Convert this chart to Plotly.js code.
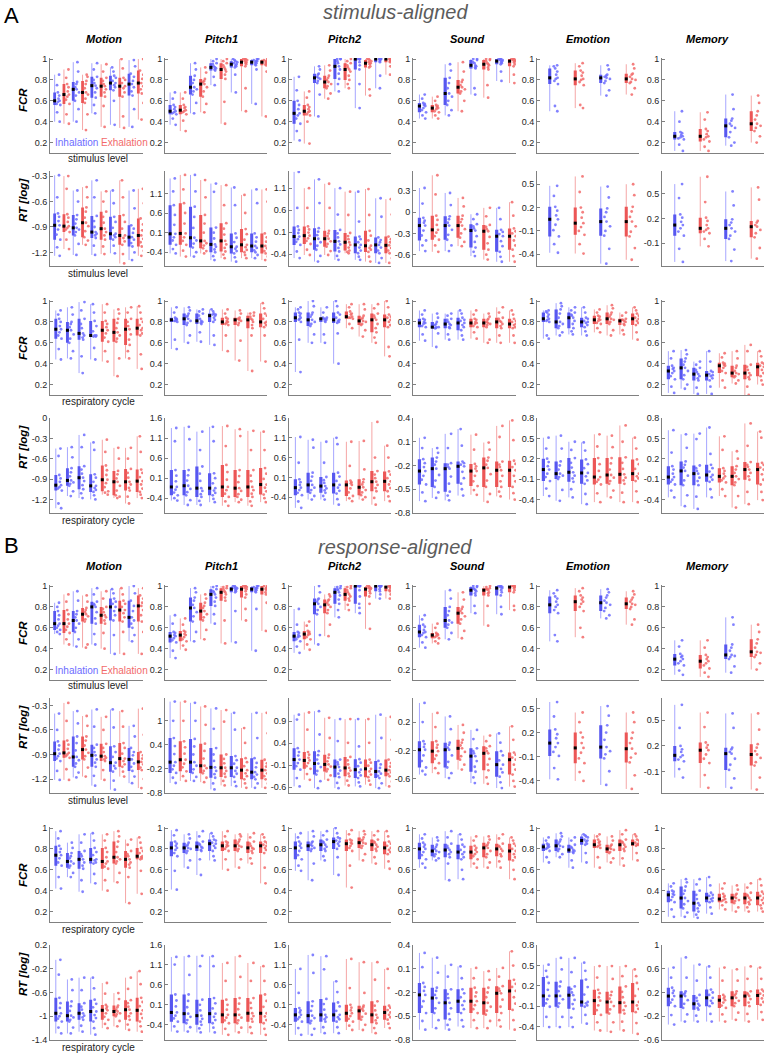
<!DOCTYPE html>
<html><head><meta charset="utf-8">
<script src="https://cdn.plot.ly/plotly-3.0.1.min.js"></script>
<style>html,body{margin:0;padding:0;background:#fff}</style>
</head><body><div id="chart" style="width:764px;height:1062px"></div>
<script>
// ===================== DATA (per panel: one array of points per group) =====================
// Section A: stimulus-aligned
const A1_motion = [
[0.40,0.49,0.56,0.57,0.59,0.60,0.62,0.65,0.68,0.75,0.85],
[0.38,0.47,0.57,0.61,0.64,0.66,0.69,0.73,0.76,0.82,0.90],
[0.40,0.52,0.60,0.65,0.68,0.71,0.73,0.76,0.78,0.88,0.97],
[0.32,0.47,0.58,0.62,0.66,0.68,0.72,0.76,0.79,0.83,0.85],
[0.48,0.56,0.63,0.68,0.72,0.745,0.77,0.80,0.83,0.90,0.96],
[0.35,0.55,0.64,0.68,0.71,0.74,0.76,0.79,0.82,0.88,0.95],
[0.37,0.60,0.70,0.73,0.75,0.77,0.79,0.82,0.84,0.88,0.92],
[0.34,0.45,0.64,0.68,0.72,0.74,0.77,0.80,0.82,0.91,1.00],
[0.35,0.52,0.65,0.69,0.73,0.76,0.79,0.83,0.86,0.93,0.99],
[0.42,0.58,0.67,0.71,0.74,0.77,0.81,0.85,0.89,0.95,1.00]];
const A1_pitch1 = [
[0.37,0.43,0.47,0.48,0.49,0.50,0.52,0.54,0.56,0.62,0.68],
[0.31,0.41,0.47,0.49,0.50,0.51,0.53,0.54,0.56,0.62,0.68],
[0.48,0.58,0.66,0.69,0.71,0.73,0.77,0.80,0.84,0.90,0.96],
[0.49,0.57,0.64,0.69,0.73,0.76,0.78,0.79,0.81,0.87,0.92],
[0.75,0.83,0.89,0.90,0.91,0.92,0.93,0.95,0.96,0.98,1.00],
[0.38,0.59,0.81,0.85,0.88,0.90,0.92,0.94,0.96,0.98,1.00],
[0.68,0.85,0.92,0.93,0.94,0.95,0.96,0.97,0.98,0.99,1.00],
[0.50,0.72,0.93,0.95,0.96,0.97,0.98,0.99,1.00,1.00,1.00],
[0.57,0.90,0.94,0.95,0.96,0.97,0.98,0.98,0.99,1.00,1.00],
[0.45,0.88,0.94,0.95,0.96,0.97,0.98,0.98,0.99,1.00,1.00]];
const A1_pitch2 = [
[0.22,0.31,0.38,0.43,0.46,0.48,0.52,0.56,0.60,0.70,0.83],
[0.19,0.40,0.46,0.47,0.49,0.50,0.52,0.54,0.56,0.63,0.69],
[0.45,0.66,0.77,0.79,0.81,0.82,0.83,0.85,0.86,0.90,0.93],
[0.62,0.67,0.72,0.74,0.76,0.78,0.80,0.82,0.84,0.89,0.94],
[0.69,0.76,0.81,0.86,0.90,0.93,0.96,0.98,1.00,1.00,1.00],
[0.72,0.76,0.80,0.84,0.88,0.90,0.92,0.94,0.96,0.98,1.00],
[0.53,0.76,0.90,0.94,0.97,1.00,1.00,1.00,1.00,1.00,1.00],
[0.65,0.71,0.92,0.93,0.95,0.96,0.97,0.98,0.99,1.00,1.00],
[0.72,0.84,0.97,0.98,0.99,1.00,1.00,1.00,1.00,1.00,1.00],
[0.85,0.93,0.97,0.98,0.99,1.00,1.00,1.00,1.00,1.00,1.00]];
const A1_sound = [
[0.43,0.46,0.49,0.51,0.53,0.55,0.56,0.57,0.58,0.62,0.66],
[0.43,0.46,0.49,0.50,0.52,0.53,0.54,0.55,0.56,0.60,0.64],
[0.46,0.51,0.56,0.60,0.64,0.67,0.72,0.77,0.82,0.89,0.95],
[0.50,0.60,0.67,0.69,0.71,0.73,0.75,0.78,0.80,0.88,0.97],
[0.66,0.72,0.91,0.92,0.93,0.94,0.96,0.97,0.99,1.00,1.00],
[0.63,0.75,0.90,0.92,0.94,0.95,0.96,0.98,0.99,1.00,1.00],
[0.79,0.88,0.95,0.96,0.97,0.98,0.99,0.99,1.00,1.00,1.00],
[0.77,0.85,0.93,0.95,0.97,0.98,0.99,0.99,1.00,1.00,1.00]];
const A1_emotion = [
[0.50,0.55,0.76,0.79,0.81,0.82,0.85,0.88,0.91,0.93,0.94],
[0.53,0.56,0.75,0.78,0.80,0.81,0.84,0.87,0.89,0.93,0.96],
[0.65,0.70,0.77,0.79,0.81,0.82,0.83,0.84,0.85,0.90,0.94],
[0.66,0.72,0.77,0.78,0.80,0.81,0.83,0.85,0.86,0.91,0.95]];
const A1_memory = [
[0.12,0.18,0.23,0.24,0.25,0.26,0.27,0.29,0.30,0.40,0.50],
[0.12,0.16,0.21,0.23,0.25,0.26,0.28,0.31,0.33,0.42,0.49],
[0.17,0.20,0.25,0.30,0.34,0.36,0.38,0.41,0.43,0.52,0.66],
[0.20,0.26,0.31,0.34,0.36,0.38,0.42,0.46,0.50,0.58,0.65]];

const A2_motion = [
[-1.24,-1.14,-1.05,-0.99,-0.93,-0.88,-0.83,-0.78,-0.74,-0.55,-0.29],
[-1.16,-1.05,-0.96,-0.93,-0.91,-0.89,-0.84,-0.79,-0.75,-0.45,-0.30],
[-1.23,-1.10,-1.00,-0.96,-0.93,-0.91,-0.86,-0.81,-0.76,-0.60,-0.47],
[-1.11,-1.06,-1.02,-0.95,-0.89,-0.85,-0.79,-0.72,-0.67,-0.55,-0.43],
[-1.23,-1.12,-1.03,-1.00,-0.98,-0.96,-0.90,-0.83,-0.77,-0.55,-0.35],
[-1.22,-1.13,-1.05,-1.00,-0.96,-0.92,-0.85,-0.78,-0.72,-0.60,-0.48],
[-1.21,-1.12,-1.05,-1.02,-1.00,-0.98,-0.91,-0.84,-0.78,-0.62,-0.47],
[-1.33,-1.22,-1.11,-1.07,-1.03,-1.00,-0.92,-0.84,-0.76,-0.55,-0.35],
[-1.29,-1.20,-1.13,-1.09,-1.05,-1.02,-0.97,-0.92,-0.88,-0.68,-0.47],
[-1.24,-1.18,-1.13,-1.08,-1.04,-1.00,-0.94,-0.87,-0.80,-0.62,-0.45]];
const A2_pitch1 = [
[-0.43,-0.32,-0.21,-0.10,-0.02,0.07,0.30,0.55,0.80,1.15,1.48],
[-0.51,-0.36,-0.21,-0.11,-0.02,0.08,0.33,0.60,0.85,1.20,1.57],
[-0.51,-0.40,-0.28,-0.18,-0.10,-0.03,0.22,0.50,0.76,1.15,1.57],
[-0.43,-0.37,-0.30,-0.23,-0.17,-0.11,0.10,0.33,0.55,1.00,1.44],
[-0.60,-0.50,-0.40,-0.33,-0.26,-0.20,-0.05,0.10,0.23,1.14,1.35],
[-0.55,-0.46,-0.38,-0.29,-0.20,-0.11,0.05,0.20,0.34,0.80,1.31],
[-0.64,-0.53,-0.43,-0.37,-0.31,-0.26,-0.14,-0.03,0.08,0.80,1.25],
[-0.55,-0.47,-0.40,-0.34,-0.27,-0.21,-0.08,0.06,0.19,0.60,1.06],
[-0.55,-0.47,-0.40,-0.35,-0.29,-0.24,-0.13,-0.02,0.08,0.85,1.20],
[-0.60,-0.51,-0.43,-0.37,-0.30,-0.24,-0.13,-0.02,0.08,0.89,1.20]];
const A2_pitch2 = [
[-0.49,-0.34,-0.19,-0.12,-0.06,0.00,0.08,0.15,0.23,0.65,1.47],
[-0.42,-0.30,-0.17,-0.10,-0.04,0.02,0.09,0.16,0.23,0.65,1.10],
[-0.57,-0.44,-0.30,-0.21,-0.13,-0.05,0.03,0.11,0.19,0.76,1.30],
[-0.42,-0.33,-0.23,-0.17,-0.11,-0.05,0.01,0.07,0.13,0.65,1.20],
[-0.53,-0.44,-0.34,-0.26,-0.18,-0.11,-0.02,0.07,0.15,0.50,1.10],
[-0.38,-0.35,-0.32,-0.25,-0.19,-0.13,-0.06,0.01,0.08,0.49,1.02],
[-0.53,-0.46,-0.38,-0.32,-0.25,-0.19,-0.13,-0.06,0.00,0.34,1.02],
[-0.57,-0.46,-0.35,-0.30,-0.26,-0.21,-0.09,0.02,0.13,0.49,1.08],
[-0.60,-0.49,-0.38,-0.32,-0.25,-0.19,-0.13,-0.08,-0.02,0.45,0.87],
[-0.60,-0.49,-0.38,-0.32,-0.26,-0.20,-0.13,-0.06,0.00,0.50,0.85]];
const A2_sound = [
[-0.55,-0.47,-0.40,-0.33,-0.26,-0.19,-0.15,-0.12,-0.08,0.12,0.34],
[-0.56,-0.47,-0.39,-0.34,-0.29,-0.25,-0.18,-0.11,-0.05,0.25,0.52],
[-0.55,-0.47,-0.39,-0.32,-0.25,-0.19,-0.15,-0.10,-0.06,0.10,0.27],
[-0.48,-0.42,-0.36,-0.30,-0.24,-0.19,-0.14,-0.10,-0.05,0.08,0.20],
[-0.62,-0.56,-0.50,-0.42,-0.34,-0.26,-0.23,-0.20,-0.17,-0.10,-0.03],
[-0.67,-0.60,-0.53,-0.44,-0.35,-0.27,-0.24,-0.21,-0.18,-0.06,0.06],
[-0.70,-0.63,-0.56,-0.48,-0.41,-0.34,-0.31,-0.28,-0.25,-0.10,0.06],
[-0.70,-0.62,-0.53,-0.47,-0.40,-0.34,-0.30,-0.27,-0.23,-0.05,0.14]];
const A2_emotion = [
[-0.38,-0.27,-0.17,-0.09,-0.02,0.05,0.10,0.16,0.21,0.35,0.48],
[-0.39,-0.27,-0.15,-0.10,-0.05,0.00,0.07,0.14,0.20,0.40,0.60],
[-0.52,-0.33,-0.16,-0.10,-0.04,0.02,0.08,0.14,0.19,0.33,0.47],
[-0.47,-0.32,-0.17,-0.11,-0.04,0.02,0.08,0.15,0.21,0.36,0.50]];
const A2_memory = [
[-0.33,-0.17,-0.01,0.04,0.08,0.12,0.16,0.21,0.25,0.45,0.62],
[-0.14,-0.05,0.02,0.04,0.06,0.08,0.12,0.17,0.21,0.40,0.71],
[-0.32,-0.18,-0.05,-0.01,0.04,0.08,0.12,0.15,0.19,0.36,0.53],
[-0.29,-0.16,-0.03,0.02,0.06,0.10,0.12,0.15,0.17,0.43,0.58]];

const A3_motion = [
[0.44,0.54,0.64,0.67,0.70,0.73,0.76,0.80,0.83,0.87,0.91],
[0.45,0.52,0.60,0.64,0.68,0.72,0.75,0.78,0.80,0.87,0.94],
[0.31,0.47,0.63,0.65,0.67,0.69,0.74,0.78,0.83,0.91,0.99],
[0.44,0.55,0.66,0.66,0.67,0.67,0.71,0.76,0.81,0.89,0.97],
[0.42,0.52,0.61,0.65,0.69,0.72,0.75,0.78,0.81,0.89,0.97],
[0.28,0.45,0.61,0.64,0.67,0.70,0.74,0.79,0.83,0.88,0.92],
[0.45,0.52,0.58,0.63,0.68,0.73,0.76,0.80,0.83,0.89,0.94],
[0.35,0.49,0.67,0.69,0.72,0.74,0.77,0.80,0.83,0.89,0.95]];
const A3_pitch1 = [
[0.54,0.63,0.80,0.81,0.81,0.82,0.83,0.83,0.84,0.89,0.94],
[0.60,0.67,0.77,0.79,0.81,0.83,0.85,0.86,0.88,0.91,0.94],
[0.61,0.70,0.78,0.79,0.80,0.81,0.83,0.86,0.88,0.90,0.92],
[0.58,0.67,0.80,0.82,0.84,0.86,0.87,0.87,0.88,0.90,0.92],
[0.52,0.67,0.77,0.78,0.79,0.80,0.81,0.83,0.84,0.88,0.92],
[0.43,0.62,0.77,0.79,0.81,0.82,0.83,0.83,0.84,0.88,0.91],
[0.33,0.67,0.74,0.77,0.80,0.82,0.83,0.85,0.86,0.88,0.89],
[0.42,0.67,0.75,0.77,0.79,0.80,0.83,0.86,0.88,0.93,0.98]];
const A3_pitch2 = [
[0.32,0.63,0.80,0.82,0.83,0.84,0.86,0.88,0.89,0.92,0.94],
[0.60,0.68,0.76,0.78,0.80,0.82,0.85,0.87,0.89,0.95,1.00],
[0.60,0.68,0.80,0.81,0.82,0.83,0.83,0.84,0.84,0.89,0.94],
[0.40,0.69,0.79,0.80,0.81,0.82,0.84,0.87,0.89,0.95,1.00],
[0.74,0.78,0.83,0.84,0.84,0.85,0.87,0.88,0.90,0.94,0.97],
[0.66,0.72,0.77,0.78,0.80,0.81,0.83,0.84,0.86,0.92,0.97],
[0.60,0.65,0.70,0.74,0.78,0.82,0.84,0.86,0.88,0.93,0.97],
[0.47,0.56,0.75,0.77,0.80,0.82,0.84,0.85,0.87,0.94,1.00]];
const A3_sound = [
[0.62,0.68,0.75,0.76,0.78,0.79,0.80,0.82,0.83,0.87,0.91],
[0.56,0.69,0.74,0.74,0.75,0.75,0.77,0.78,0.80,0.84,0.88],
[0.63,0.68,0.74,0.75,0.77,0.78,0.80,0.82,0.83,0.86,0.88],
[0.63,0.67,0.72,0.75,0.77,0.79,0.81,0.82,0.84,0.88,0.91],
[0.64,0.70,0.75,0.76,0.78,0.79,0.80,0.82,0.83,0.87,0.91],
[0.60,0.63,0.75,0.77,0.78,0.79,0.80,0.82,0.83,0.85,0.88],
[0.60,0.67,0.74,0.76,0.78,0.80,0.81,0.83,0.84,0.89,0.94],
[0.60,0.67,0.74,0.75,0.77,0.78,0.80,0.81,0.83,0.87,0.91]];
const A3_emotion = [
[0.64,0.67,0.80,0.81,0.82,0.83,0.85,0.87,0.89,0.90,0.91],
[0.67,0.70,0.74,0.76,0.78,0.80,0.84,0.88,0.92,0.95,0.98],
[0.68,0.71,0.74,0.78,0.81,0.84,0.86,0.87,0.89,0.91,0.94],
[0.67,0.71,0.75,0.77,0.79,0.80,0.81,0.83,0.84,0.89,0.94],
[0.70,0.74,0.78,0.79,0.81,0.82,0.83,0.85,0.86,0.89,0.92],
[0.67,0.72,0.78,0.80,0.82,0.83,0.85,0.87,0.89,0.93,0.96],
[0.68,0.72,0.77,0.78,0.80,0.81,0.82,0.82,0.83,0.86,0.89],
[0.63,0.70,0.77,0.79,0.81,0.83,0.84,0.86,0.88,0.91,0.94]];
const A3_memory = [
[0.12,0.18,0.25,0.28,0.31,0.33,0.35,0.36,0.38,0.45,0.52],
[0.16,0.20,0.25,0.29,0.33,0.36,0.39,0.42,0.45,0.49,0.53],
[0.11,0.17,0.24,0.26,0.28,0.30,0.32,0.34,0.36,0.39,0.42],
[0.11,0.18,0.24,0.26,0.28,0.29,0.30,0.32,0.33,0.42,0.52],
[0.17,0.24,0.31,0.33,0.36,0.38,0.39,0.40,0.41,0.46,0.50],
[0.21,0.24,0.27,0.28,0.30,0.31,0.33,0.36,0.38,0.45,0.52],
[0.10,0.18,0.25,0.27,0.29,0.31,0.34,0.37,0.39,0.52,0.58],
[0.20,0.24,0.28,0.31,0.34,0.37,0.38,0.40,0.41,0.47,0.52]];

const A4_motion = [
[-1.33,-1.26,-1.07,-1.04,-1.02,-0.99,-0.94,-0.89,-0.84,-0.56,-0.45],
[-1.15,-1.08,-1.00,-0.97,-0.95,-0.92,-0.86,-0.80,-0.74,-0.58,-0.43],
[-1.18,-1.11,-1.05,-0.99,-0.93,-0.88,-0.82,-0.76,-0.71,-0.43,-0.25],
[-1.20,-1.14,-1.09,-1.06,-1.03,-1.00,-0.94,-0.88,-0.83,-0.47,-0.36],
[-1.13,-1.10,-1.08,-1.02,-0.96,-0.91,-0.84,-0.77,-0.70,-0.50,-0.32],
[-1.18,-1.16,-1.14,-1.07,-1.00,-0.94,-0.89,-0.83,-0.78,-0.60,-0.44],
[-1.26,-1.16,-1.07,-1.03,-0.98,-0.94,-0.88,-0.81,-0.75,-0.60,-0.44],
[-1.18,-1.13,-1.09,-1.04,-0.98,-0.93,-0.87,-0.81,-0.76,-0.50,-0.27]];
const A4_pitch1 = [
[-0.46,-0.40,-0.33,-0.26,-0.19,-0.12,0.02,0.16,0.30,1.02,1.35],
[-0.57,-0.45,-0.33,-0.25,-0.17,-0.09,0.04,0.17,0.30,1.07,1.38],
[-0.57,-0.47,-0.37,-0.30,-0.22,-0.15,0.03,0.21,0.39,0.80,1.26],
[-0.50,-0.42,-0.33,-0.27,-0.21,-0.15,-0.03,0.10,0.22,1.02,1.38],
[-0.59,-0.48,-0.37,-0.29,-0.20,-0.12,0.06,0.25,0.43,0.90,1.40],
[-0.50,-0.44,-0.37,-0.30,-0.22,-0.15,0.00,0.15,0.30,1.15,1.32],
[-0.59,-0.48,-0.37,-0.29,-0.20,-0.12,0.02,0.16,0.30,0.80,1.28],
[-0.50,-0.40,-0.31,-0.23,-0.14,-0.06,0.08,0.21,0.35,0.80,1.26]];
const A4_pitch2 = [
[-0.67,-0.51,-0.35,-0.29,-0.22,-0.16,-0.09,-0.02,0.05,0.47,1.12],
[-0.46,-0.37,-0.29,-0.22,-0.16,-0.09,0.01,0.12,0.22,0.85,1.05],
[-0.46,-0.37,-0.29,-0.23,-0.18,-0.12,-0.04,0.03,0.11,0.47,1.00],
[-0.59,-0.45,-0.31,-0.24,-0.16,-0.09,0.01,0.12,0.22,0.94,1.10],
[-0.50,-0.43,-0.37,-0.28,-0.18,-0.09,-0.05,-0.02,0.02,0.39,1.00],
[-0.46,-0.40,-0.35,-0.28,-0.22,-0.15,-0.08,-0.02,0.05,0.30,1.02],
[-0.59,-0.42,-0.25,-0.17,-0.09,-0.01,0.08,0.17,0.26,0.60,1.50],
[-0.50,-0.38,-0.25,-0.17,-0.08,0.00,0.08,0.17,0.25,0.60,0.90]];
const A4_sound = [
[-0.65,-0.54,-0.44,-0.38,-0.33,-0.27,-0.22,-0.17,-0.12,0.02,0.15],
[-0.61,-0.54,-0.47,-0.39,-0.32,-0.24,-0.19,-0.15,-0.10,-0.04,0.02],
[-0.64,-0.58,-0.53,-0.43,-0.34,-0.24,-0.22,-0.19,-0.17,0.02,0.20],
[-0.58,-0.50,-0.43,-0.36,-0.28,-0.21,-0.19,-0.17,-0.15,0.05,0.26],
[-0.57,-0.51,-0.46,-0.40,-0.33,-0.27,-0.24,-0.21,-0.18,0.00,0.19],
[-0.66,-0.56,-0.47,-0.39,-0.31,-0.23,-0.19,-0.14,-0.10,0.00,0.09],
[-0.59,-0.53,-0.47,-0.40,-0.33,-0.26,-0.22,-0.19,-0.15,0.16,0.30],
[-0.63,-0.55,-0.47,-0.40,-0.33,-0.26,-0.22,-0.18,-0.14,0.12,0.37]];
const A4_emotion = [
[-0.35,-0.24,-0.13,-0.07,-0.02,0.04,0.09,0.15,0.20,0.35,0.51],
[-0.42,-0.26,-0.10,-0.07,-0.05,-0.02,0.04,0.10,0.16,0.35,0.54],
[-0.37,-0.25,-0.14,-0.09,-0.05,0.00,0.07,0.14,0.21,0.33,0.45],
[-0.47,-0.32,-0.17,-0.12,-0.06,-0.01,0.06,0.12,0.19,0.32,0.44],
[-0.44,-0.31,-0.18,-0.14,-0.11,-0.07,0.02,0.12,0.21,0.38,0.56],
[-0.37,-0.27,-0.17,-0.13,-0.08,-0.04,0.04,0.13,0.21,0.37,0.54],
[-0.44,-0.30,-0.17,-0.12,-0.08,-0.03,0.05,0.14,0.22,0.45,0.69],
[-0.44,-0.28,-0.13,-0.09,-0.06,-0.02,0.05,0.12,0.19,0.35,0.51]];
const A4_memory = [
[-0.37,-0.27,-0.18,-0.14,-0.11,-0.07,-0.02,0.04,0.09,0.29,0.62],
[-0.50,-0.34,-0.19,-0.12,-0.05,0.02,0.07,0.11,0.16,0.36,0.56],
[-0.54,-0.36,-0.19,-0.13,-0.08,-0.02,0.02,0.06,0.10,0.49,0.57],
[-0.37,-0.25,-0.14,-0.11,-0.07,-0.04,0.01,0.06,0.11,0.27,0.66],
[-0.35,-0.25,-0.15,-0.12,-0.09,-0.06,-0.02,0.02,0.06,0.33,0.53],
[-0.52,-0.35,-0.19,-0.15,-0.10,-0.06,-0.01,0.04,0.09,0.20,0.31],
[-0.47,-0.29,-0.11,-0.06,-0.01,0.04,0.08,0.11,0.15,0.39,0.72],
[-0.41,-0.29,-0.18,-0.11,-0.03,0.04,0.07,0.11,0.14,0.51,0.60]];

// Section B: response-aligned
const B1_motion = [
[0.54,0.56,0.58,0.60,0.62,0.64,0.68,0.72,0.76,0.80,0.84],
[0.44,0.49,0.55,0.58,0.61,0.64,0.68,0.73,0.77,0.85,0.92],
[0.42,0.49,0.56,0.60,0.64,0.67,0.70,0.73,0.76,0.86,0.95],
[0.41,0.44,0.66,0.68,0.71,0.73,0.75,0.77,0.79,0.85,0.91],
[0.44,0.54,0.64,0.69,0.75,0.80,0.82,0.83,0.85,0.92,0.98],
[0.40,0.55,0.64,0.67,0.70,0.72,0.75,0.78,0.80,0.88,0.95],
[0.35,0.53,0.67,0.72,0.76,0.80,0.83,0.85,0.88,0.93,0.97],
[0.35,0.56,0.66,0.70,0.74,0.77,0.80,0.83,0.86,0.92,0.98],
[0.47,0.53,0.60,0.64,0.67,0.70,0.76,0.81,0.86,0.93,1.00],
[0.35,0.56,0.66,0.72,0.77,0.81,0.84,0.88,0.91,0.95,0.98]];
const B1_pitch1 = [
[0.31,0.38,0.46,0.48,0.50,0.52,0.53,0.55,0.56,0.64,0.72],
[0.39,0.43,0.47,0.49,0.51,0.53,0.54,0.56,0.57,0.63,0.69],
[0.47,0.56,0.66,0.71,0.75,0.79,0.82,0.86,0.89,0.94,0.98],
[0.49,0.58,0.67,0.70,0.73,0.76,0.79,0.81,0.84,0.88,0.92],
[0.64,0.73,0.81,0.85,0.89,0.92,0.94,0.95,0.97,0.99,1.00],
[0.45,0.67,0.86,0.89,0.92,0.94,0.95,0.97,0.98,0.99,1.00],
[0.46,0.76,0.94,0.95,0.96,0.97,0.98,0.98,0.99,1.00,1.00],
[0.67,0.78,0.89,0.92,0.95,0.97,0.98,0.99,1.00,1.00,1.00],
[0.38,0.78,0.94,0.95,0.96,0.97,0.98,0.98,0.99,1.00,1.00],
[0.57,0.84,0.92,0.94,0.96,0.97,0.98,0.99,1.00,1.00,1.00]];
const B1_pitch2 = [
[0.36,0.42,0.47,0.49,0.51,0.52,0.53,0.55,0.56,0.63,0.78],
[0.39,0.44,0.49,0.51,0.53,0.54,0.55,0.56,0.57,0.62,0.66],
[0.44,0.53,0.73,0.77,0.80,0.83,0.85,0.87,0.88,0.94,1.00],
[0.52,0.63,0.74,0.77,0.80,0.82,0.84,0.86,0.87,0.90,0.92],
[0.70,0.77,0.83,0.87,0.91,0.94,0.96,0.97,0.98,0.99,1.00],
[0.77,0.82,0.86,0.88,0.90,0.92,0.94,0.96,0.98,0.99,1.00],
[0.74,0.79,0.83,0.90,0.96,1.00,1.00,1.00,1.00,1.00,1.00],
[0.59,0.83,0.90,0.93,0.95,0.97,0.98,0.98,0.99,1.00,1.00],
[0.88,0.92,0.95,0.97,0.99,1.00,1.00,1.00,1.00,1.00,1.00],
[0.88,0.92,0.95,0.96,0.98,0.99,1.00,1.00,1.00,1.00,1.00]];
const B1_sound = [
[0.41,0.46,0.51,0.53,0.55,0.56,0.58,0.61,0.63,0.68,0.72],
[0.45,0.47,0.50,0.51,0.52,0.53,0.54,0.54,0.55,0.60,0.64],
[0.49,0.55,0.60,0.63,0.65,0.67,0.72,0.76,0.80,0.88,0.96],
[0.50,0.57,0.64,0.68,0.71,0.74,0.76,0.78,0.80,0.87,0.94],
[0.74,0.81,0.91,0.93,0.95,0.96,0.97,0.98,0.99,1.00,1.00],
[0.62,0.81,0.91,0.93,0.94,0.96,0.97,0.97,0.98,0.99,1.00],
[0.73,0.80,0.91,0.94,0.96,0.98,0.99,0.99,1.00,1.00,1.00],
[0.77,0.81,0.94,0.96,0.98,0.99,1.00,1.00,1.00,1.00,1.00]];
const B1_emotion = [
[0.47,0.53,0.74,0.77,0.80,0.82,0.85,0.88,0.90,0.93,0.96],
[0.51,0.60,0.76,0.80,0.83,0.85,0.87,0.89,0.91,0.95,0.98],
[0.69,0.72,0.76,0.79,0.82,0.84,0.86,0.89,0.91,0.94,0.97],
[0.63,0.68,0.78,0.80,0.82,0.83,0.85,0.87,0.89,0.92,0.95]];
const B1_memory = [
[0.15,0.19,0.24,0.26,0.28,0.30,0.32,0.33,0.35,0.42,0.48],
[0.13,0.17,0.21,0.24,0.26,0.28,0.30,0.32,0.34,0.41,0.48],
[0.17,0.23,0.30,0.32,0.33,0.34,0.38,0.41,0.44,0.63,0.70],
[0.20,0.26,0.32,0.34,0.36,0.37,0.41,0.45,0.49,0.56,0.63]];

const B2_motion = [
[-1.21,-1.10,-0.98,-0.95,-0.92,-0.89,-0.84,-0.79,-0.74,-0.60,-0.40],
[-1.21,-1.08,-0.94,-0.92,-0.90,-0.88,-0.83,-0.78,-0.73,-0.49,-0.27],
[-1.18,-1.12,-1.05,-1.01,-0.97,-0.93,-0.85,-0.76,-0.68,-0.52,-0.37],
[-1.17,-1.06,-0.96,-0.92,-0.88,-0.84,-0.79,-0.73,-0.68,-0.55,-0.43],
[-1.28,-1.16,-1.05,-1.00,-0.96,-0.91,-0.87,-0.82,-0.78,-0.56,-0.35],
[-1.21,-1.09,-0.98,-0.96,-0.94,-0.92,-0.87,-0.82,-0.77,-0.60,-0.44],
[-1.33,-1.22,-1.11,-1.07,-1.04,-1.00,-0.93,-0.87,-0.80,-0.57,-0.35],
[-1.17,-1.11,-1.05,-1.02,-0.98,-0.95,-0.89,-0.82,-0.76,-0.56,-0.37],
[-1.25,-1.17,-1.10,-1.05,-1.01,-0.96,-0.91,-0.87,-0.82,-0.68,-0.55],
[-1.31,-1.20,-1.09,-1.06,-1.02,-0.99,-0.95,-0.91,-0.87,-0.66,-0.34]];
const B2_pitch1 = [
[-0.55,-0.42,-0.30,-0.21,-0.12,-0.03,0.17,0.37,0.57,1.00,1.48],
[-0.50,-0.38,-0.26,-0.16,-0.07,0.03,0.18,0.34,0.49,1.00,1.48],
[-0.50,-0.40,-0.30,-0.21,-0.12,-0.03,0.16,0.36,0.55,1.00,1.45],
[-0.53,-0.42,-0.31,-0.25,-0.18,-0.12,0.06,0.25,0.43,0.90,1.36],
[-0.71,-0.56,-0.42,-0.33,-0.25,-0.16,0.00,0.16,0.32,0.80,1.31],
[-0.61,-0.50,-0.40,-0.32,-0.25,-0.17,-0.06,0.05,0.16,0.98,1.27],
[-0.63,-0.52,-0.40,-0.32,-0.25,-0.17,-0.07,0.02,0.12,0.78,1.20],
[-0.67,-0.56,-0.46,-0.38,-0.31,-0.23,-0.13,-0.03,0.07,0.45,0.82],
[-0.67,-0.56,-0.46,-0.40,-0.34,-0.28,-0.16,-0.05,0.07,0.57,1.20],
[-0.67,-0.56,-0.46,-0.38,-0.31,-0.23,-0.14,-0.06,0.03,0.69,1.20]];
const B2_pitch2 = [
[-0.58,-0.39,-0.20,-0.12,-0.05,0.03,0.12,0.20,0.29,0.94,1.05],
[-0.43,-0.30,-0.18,-0.12,-0.05,0.01,0.07,0.14,0.20,0.71,1.10],
[-0.62,-0.46,-0.31,-0.23,-0.14,-0.06,0.03,0.13,0.22,0.60,1.13],
[-0.43,-0.33,-0.24,-0.19,-0.13,-0.08,-0.01,0.07,0.14,0.52,0.98],
[-0.62,-0.50,-0.37,-0.29,-0.22,-0.14,-0.08,-0.03,0.03,0.45,0.95],
[-0.56,-0.45,-0.35,-0.29,-0.22,-0.16,-0.08,0.01,0.09,0.41,0.95],
[-0.58,-0.49,-0.39,-0.33,-0.26,-0.20,-0.12,-0.04,0.04,0.33,0.95],
[-0.54,-0.45,-0.37,-0.31,-0.24,-0.18,-0.11,-0.04,0.03,0.41,0.95],
[-0.62,-0.51,-0.39,-0.34,-0.29,-0.24,-0.16,-0.08,0.00,0.52,1.05],
[-0.58,-0.47,-0.35,-0.30,-0.26,-0.21,-0.13,-0.05,0.03,0.48,1.00]];
const B2_sound = [
[-0.54,-0.49,-0.44,-0.35,-0.27,-0.19,-0.15,-0.11,-0.07,0.20,0.47],
[-0.52,-0.45,-0.38,-0.32,-0.27,-0.21,-0.16,-0.12,-0.07,0.13,0.33],
[-0.59,-0.52,-0.44,-0.36,-0.27,-0.19,-0.16,-0.12,-0.09,0.10,0.28],
[-0.47,-0.40,-0.33,-0.28,-0.22,-0.17,-0.13,-0.09,-0.05,0.05,0.16],
[-0.66,-0.58,-0.50,-0.43,-0.35,-0.28,-0.24,-0.21,-0.17,-0.04,0.09],
[-0.67,-0.58,-0.48,-0.40,-0.32,-0.24,-0.21,-0.17,-0.14,-0.07,0.01],
[-0.73,-0.65,-0.57,-0.51,-0.46,-0.40,-0.34,-0.27,-0.21,-0.09,0.04],
[-0.71,-0.63,-0.54,-0.47,-0.40,-0.33,-0.30,-0.26,-0.23,-0.05,0.14]];
const B2_emotion = [
[-0.38,-0.24,-0.09,-0.04,0.02,0.07,0.13,0.18,0.24,0.40,0.58],
[-0.40,-0.29,-0.18,-0.12,-0.05,0.01,0.07,0.14,0.20,0.33,0.45],
[-0.45,-0.28,-0.12,-0.07,-0.03,0.02,0.11,0.20,0.29,0.41,0.53],
[-0.50,-0.33,-0.17,-0.11,-0.06,0.00,0.07,0.13,0.20,0.33,0.45]];
const B2_memory = [
[-0.17,-0.07,0.02,0.04,0.07,0.09,0.13,0.16,0.20,0.41,0.68],
[-0.29,-0.14,0.00,0.05,0.10,0.15,0.18,0.21,0.24,0.42,0.59],
[-0.29,-0.18,-0.08,-0.02,0.05,0.11,0.13,0.16,0.18,0.41,0.58],
[-0.31,-0.17,-0.03,0.01,0.06,0.10,0.14,0.18,0.22,0.39,0.58]];

const B3_motion = [
[0.42,0.53,0.64,0.67,0.71,0.74,0.77,0.80,0.83,0.90,0.97],
[0.53,0.57,0.62,0.64,0.66,0.68,0.71,0.73,0.76,0.81,0.86],
[0.39,0.50,0.61,0.64,0.67,0.70,0.73,0.75,0.78,0.86,0.94],
[0.47,0.56,0.66,0.67,0.69,0.70,0.74,0.77,0.81,0.88,0.95],
[0.40,0.50,0.61,0.63,0.66,0.68,0.72,0.77,0.81,0.88,0.94],
[0.48,0.57,0.66,0.68,0.70,0.72,0.77,0.82,0.87,0.92,0.97],
[0.28,0.53,0.62,0.65,0.67,0.70,0.73,0.75,0.78,0.84,0.89],
[0.37,0.59,0.70,0.71,0.72,0.73,0.76,0.78,0.81,0.86,0.91]];
const B3_pitch1 = [
[0.41,0.59,0.73,0.76,0.79,0.81,0.83,0.85,0.87,0.93,0.98],
[0.62,0.69,0.76,0.78,0.80,0.81,0.83,0.84,0.86,0.90,0.94],
[0.55,0.70,0.78,0.79,0.81,0.82,0.84,0.85,0.87,0.92,0.97],
[0.69,0.73,0.78,0.81,0.83,0.85,0.86,0.88,0.89,0.92,0.95],
[0.60,0.70,0.78,0.80,0.82,0.83,0.84,0.86,0.87,0.92,0.97],
[0.62,0.70,0.78,0.80,0.82,0.83,0.85,0.87,0.89,0.92,0.94],
[0.66,0.71,0.76,0.78,0.80,0.81,0.83,0.85,0.87,0.91,0.95],
[0.47,0.62,0.76,0.79,0.81,0.83,0.84,0.86,0.87,0.91,0.94]];
const B3_pitch2 = [
[0.59,0.64,0.70,0.74,0.78,0.81,0.83,0.85,0.87,0.91,0.95],
[0.50,0.66,0.78,0.80,0.81,0.83,0.84,0.86,0.87,0.92,0.97],
[0.69,0.73,0.78,0.80,0.82,0.84,0.86,0.87,0.89,0.93,0.97],
[0.55,0.72,0.80,0.83,0.85,0.87,0.88,0.90,0.91,0.95,1.00],
[0.43,0.64,0.78,0.81,0.83,0.85,0.86,0.88,0.89,0.94,0.98],
[0.69,0.75,0.81,0.83,0.85,0.86,0.88,0.89,0.91,0.94,0.97],
[0.66,0.72,0.78,0.80,0.82,0.84,0.86,0.87,0.89,0.93,0.97],
[0.61,0.68,0.75,0.77,0.79,0.81,0.83,0.85,0.87,0.92,0.97]];
const B3_sound = [
[0.62,0.66,0.70,0.74,0.77,0.80,0.82,0.84,0.86,0.90,0.94],
[0.69,0.71,0.73,0.75,0.77,0.78,0.80,0.82,0.84,0.88,0.91],
[0.50,0.66,0.72,0.75,0.77,0.79,0.81,0.83,0.85,0.91,0.97],
[0.51,0.60,0.70,0.72,0.75,0.77,0.79,0.82,0.84,0.89,0.94],
[0.62,0.66,0.70,0.73,0.75,0.77,0.79,0.81,0.83,0.88,0.92],
[0.62,0.67,0.72,0.75,0.78,0.81,0.83,0.84,0.86,0.89,0.92],
[0.62,0.68,0.73,0.75,0.78,0.80,0.82,0.83,0.85,0.90,0.94],
[0.51,0.60,0.69,0.72,0.75,0.78,0.80,0.83,0.85,0.88,0.91]];
const B3_emotion = [
[0.67,0.72,0.78,0.80,0.81,0.82,0.83,0.84,0.85,0.88,0.91],
[0.72,0.75,0.78,0.80,0.82,0.83,0.85,0.87,0.89,0.92,0.95],
[0.62,0.69,0.76,0.77,0.78,0.79,0.81,0.82,0.84,0.88,0.91],
[0.67,0.76,0.84,0.85,0.87,0.88,0.89,0.91,0.92,0.93,0.94],
[0.62,0.72,0.81,0.82,0.83,0.84,0.86,0.87,0.89,0.92,0.94],
[0.67,0.71,0.76,0.77,0.79,0.80,0.81,0.83,0.84,0.88,0.92],
[0.64,0.71,0.78,0.80,0.82,0.84,0.86,0.87,0.89,0.94,0.98],
[0.69,0.76,0.83,0.84,0.84,0.85,0.86,0.88,0.89,0.92,0.94]];
const B3_memory = [
[0.15,0.22,0.29,0.31,0.34,0.36,0.37,0.39,0.40,0.44,0.47],
[0.15,0.19,0.23,0.27,0.30,0.33,0.37,0.40,0.44,0.48,0.51],
[0.14,0.17,0.20,0.23,0.26,0.28,0.32,0.36,0.40,0.46,0.51],
[0.18,0.24,0.29,0.30,0.32,0.33,0.35,0.36,0.38,0.45,0.53],
[0.22,0.26,0.29,0.30,0.31,0.32,0.34,0.35,0.37,0.42,0.47],
[0.20,0.24,0.28,0.30,0.31,0.33,0.34,0.36,0.37,0.41,0.45],
[0.20,0.24,0.27,0.29,0.31,0.33,0.35,0.36,0.38,0.43,0.47],
[0.20,0.23,0.26,0.28,0.31,0.33,0.35,0.37,0.39,0.45,0.51]];

const B4_motion = [
[-1.29,-1.19,-1.09,-1.04,-1.00,-0.95,-0.86,-0.78,-0.69,-0.30,-0.05],
[-1.29,-1.19,-1.09,-1.06,-1.02,-0.99,-0.91,-0.83,-0.75,-0.56,-0.38],
[-1.26,-1.16,-1.06,-1.02,-0.99,-0.95,-0.89,-0.84,-0.78,-0.56,-0.35],
[-1.31,-1.20,-1.09,-1.03,-0.98,-0.92,-0.85,-0.79,-0.72,-0.53,-0.35],
[-1.20,-1.13,-1.06,-1.01,-0.95,-0.90,-0.87,-0.84,-0.81,-0.62,-0.44],
[-1.17,-1.08,-1.00,-0.97,-0.95,-0.92,-0.89,-0.85,-0.82,-0.71,-0.61],
[-1.23,-1.14,-1.06,-1.00,-0.95,-0.89,-0.84,-0.78,-0.73,-0.54,-0.35],
[-1.26,-1.17,-1.09,-1.03,-0.96,-0.90,-0.83,-0.76,-0.69,-0.46,-0.24]];
const B4_pitch1 = [
[-0.57,-0.44,-0.32,-0.24,-0.17,-0.09,0.06,0.21,0.36,1.11,1.30],
[-0.57,-0.46,-0.36,-0.28,-0.20,-0.12,0.04,0.20,0.36,0.85,1.32],
[-0.59,-0.49,-0.40,-0.32,-0.25,-0.17,-0.04,0.10,0.23,1.07,1.33],
[-0.59,-0.47,-0.36,-0.28,-0.20,-0.12,0.01,0.14,0.27,1.07,1.32],
[-0.65,-0.50,-0.36,-0.29,-0.22,-0.15,-0.02,0.10,0.23,0.70,1.15],
[-0.59,-0.47,-0.36,-0.29,-0.22,-0.15,-0.01,0.13,0.27,0.80,1.32],
[-0.61,-0.46,-0.32,-0.25,-0.18,-0.11,0.02,0.15,0.27,0.70,1.15],
[-0.65,-0.50,-0.36,-0.28,-0.19,-0.11,0.05,0.20,0.36,0.70,1.07]];
const B4_pitch2 = [
[-0.65,-0.48,-0.32,-0.26,-0.21,-0.15,-0.09,-0.04,0.02,0.40,1.00],
[-0.65,-0.50,-0.36,-0.30,-0.23,-0.17,-0.05,0.07,0.19,0.90,1.35],
[-0.61,-0.46,-0.32,-0.26,-0.21,-0.15,-0.02,0.12,0.25,0.99,1.32],
[-0.61,-0.46,-0.32,-0.26,-0.21,-0.15,-0.05,0.06,0.16,0.42,0.69],
[-0.53,-0.42,-0.32,-0.25,-0.18,-0.11,-0.04,0.03,0.10,0.52,1.25],
[-0.53,-0.40,-0.27,-0.20,-0.12,-0.05,-0.01,0.04,0.08,0.40,1.17],
[-0.61,-0.48,-0.36,-0.29,-0.22,-0.15,-0.04,0.08,0.19,0.73,1.17],
[-0.48,-0.37,-0.27,-0.21,-0.15,-0.09,-0.03,0.03,0.08,0.52,1.00]];
const B4_sound = [
[-0.67,-0.56,-0.46,-0.38,-0.31,-0.23,-0.18,-0.13,-0.08,0.12,0.30],
[-0.65,-0.55,-0.46,-0.40,-0.33,-0.27,-0.23,-0.18,-0.14,0.05,0.24],
[-0.67,-0.61,-0.54,-0.47,-0.40,-0.33,-0.27,-0.22,-0.16,0.00,0.15],
[-0.63,-0.55,-0.46,-0.41,-0.36,-0.31,-0.26,-0.21,-0.16,-0.02,0.13],
[-0.65,-0.55,-0.46,-0.41,-0.36,-0.31,-0.25,-0.20,-0.14,-0.02,0.11],
[-0.65,-0.56,-0.48,-0.43,-0.38,-0.33,-0.26,-0.20,-0.14,-0.04,0.07],
[-0.63,-0.55,-0.46,-0.38,-0.29,-0.21,-0.18,-0.15,-0.12,0.00,0.11],
[-0.67,-0.55,-0.42,-0.34,-0.26,-0.18,-0.13,-0.09,-0.04,0.14,0.32]];
const B4_emotion = [
[-0.41,-0.26,-0.11,-0.06,0.00,0.05,0.14,0.24,0.33,0.42,0.51],
[-0.41,-0.26,-0.11,-0.06,0.00,0.05,0.12,0.19,0.26,0.44,0.61],
[-0.41,-0.27,-0.14,-0.07,-0.01,0.06,0.10,0.15,0.19,0.40,0.61],
[-0.36,-0.23,-0.11,-0.09,-0.06,-0.04,0.07,0.18,0.29,0.42,0.54],
[-0.46,-0.34,-0.23,-0.16,-0.09,-0.02,0.03,0.09,0.14,0.32,0.49],
[-0.48,-0.34,-0.21,-0.15,-0.10,-0.04,0.01,0.06,0.11,0.30,0.49],
[-0.46,-0.33,-0.21,-0.16,-0.10,-0.05,0.03,0.11,0.19,0.34,0.49],
[-0.51,-0.35,-0.19,-0.14,-0.09,-0.04,0.05,0.15,0.24,0.34,0.44]];
const B4_memory = [
[-0.34,-0.18,-0.03,0.03,0.08,0.14,0.19,0.23,0.28,0.45,0.62],
[-0.29,-0.17,-0.06,0.01,0.07,0.14,0.17,0.19,0.22,0.45,0.79],
[-0.29,-0.19,-0.09,-0.06,-0.02,0.01,0.06,0.11,0.16,0.40,0.67],
[-0.29,-0.16,-0.03,0.02,0.06,0.11,0.16,0.20,0.25,0.45,0.64],
[-0.29,-0.17,-0.06,-0.02,0.03,0.07,0.10,0.13,0.16,0.40,0.62],
[-0.26,-0.14,-0.03,0.02,0.06,0.11,0.15,0.18,0.22,0.40,0.59],
[-0.29,-0.16,-0.03,0.03,0.09,0.14,0.17,0.19,0.22,0.43,0.64],
[-0.26,-0.13,-0.01,0.04,0.10,0.15,0.18,0.22,0.25,0.43,0.62]];

// ===================== LABELS / TICKS =====================
const columnNames = ['Motion','Pitch1','Pitch2','Sound','Emotion','Memory'];
const sectionLetters = ['A','B'];
const sectionTitles = ['stimulus-aligned','response-aligned'];
const rowLabels = ['FCR','RT [log]','FCR','RT [log]'];
const rowAxisLabels = ['stimulus level','stimulus level','respiratory cycle','respiratory cycle'];
const legendLabels = ['Inhalation','Exhalation'];

const fcrTicks = [0.2,0.4,0.6,0.8,1];
const A_ticks = [
 [fcrTicks,fcrTicks,fcrTicks,fcrTicks,fcrTicks,fcrTicks],
 [[-1.2,-0.9,-0.6,-0.3],[-0.4,0.1,0.6,1.1],[-0.4,0.1,0.6,1.1],[-0.6,-0.3,0,0.3],[-0.4,-0.1,0.2,0.5],[-0.1,0.2,0.5]],
 [fcrTicks,fcrTicks,fcrTicks,fcrTicks,fcrTicks,fcrTicks],
 [[-1.2,-0.9,-0.6,-0.3,0],[-0.4,0.1,0.6,1.1,1.6],[-0.4,0.1,0.6,1.1,1.6],[-0.8,-0.5,-0.2,0.1,0.4],[-0.4,-0.1,0.2,0.5,0.8],[-0.4,-0.1,0.2,0.5,0.8]]
];
const B_ticks = [
 [fcrTicks,fcrTicks,fcrTicks,fcrTicks,fcrTicks,fcrTicks],
 [[-1.2,-0.9,-0.6,-0.3],[-0.8,-0.2,0.4,1],[-0.6,-0.1,0.4,0.9],[-0.6,-0.2,0.2],[-0.4,-0.1,0.2,0.5],[-0.1,0.2,0.5]],
 [fcrTicks,fcrTicks,fcrTicks,fcrTicks,fcrTicks,fcrTicks],
 [[-1.4,-1,-0.6,-0.2,0.2],[-0.4,0.1,0.6,1.1,1.6],[-0.4,0.1,0.6,1.1,1.6],[-0.8,-0.5,-0.2,0.1,0.4],[-0.4,-0.1,0.2,0.5,0.8],[-0.6,-0.2,0.2,0.6,1]]
];
const fcrRange = [0.1,1.01];
const A_ranges = [
 [fcrRange,fcrRange,fcrRange,fcrRange,fcrRange,fcrRange],
 [[-1.36,-0.24],[-0.75,1.67],[-0.67,1.49],[-0.76,0.58],[-0.55,0.67],[-0.38,0.78]],
 [fcrRange,fcrRange,fcrRange,fcrRange,fcrRange,fcrRange],
 [[-1.4,0],[-0.77,1.6],[-0.8,1.6],[-0.8,0.4],[-0.6,0.8],[-0.6,0.8]]
];
const B_ranges = [
 [fcrRange,fcrRange,fcrRange,fcrRange,fcrRange,fcrRange],
 [[-1.37,-0.21],[-0.8,1.57],[-0.73,1.43],[-0.8,0.54],[-0.55,0.63],[-0.35,0.76]],
 [fcrRange,fcrRange,fcrRange,fcrRange,fcrRange,fcrRange],
 [[-1.4,0.2],[-0.78,1.6],[-0.78,1.6],[-0.8,0.4],[-0.6,0.8],[-0.6,1.0]]
];
const A_data = [
 [A1_motion,A1_pitch1,A1_pitch2,A1_sound,A1_emotion,A1_memory],
 [A2_motion,A2_pitch1,A2_pitch2,A2_sound,A2_emotion,A2_memory],
 [A3_motion,A3_pitch1,A3_pitch2,A3_sound,A3_emotion,A3_memory],
 [A4_motion,A4_pitch1,A4_pitch2,A4_sound,A4_emotion,A4_memory]];
const B_data = [
 [B1_motion,B1_pitch1,B1_pitch2,B1_sound,B1_emotion,B1_memory],
 [B2_motion,B2_pitch1,B2_pitch2,B2_sound,B2_emotion,B2_memory],
 [B3_motion,B3_pitch1,B3_pitch2,B3_sound,B3_emotion,B3_memory],
 [B4_motion,B4_pitch1,B4_pitch2,B4_sound,B4_emotion,B4_memory]];

// ===================== LAYOUT / STYLE =====================
const W = 764, H = 1062;
const FONT = 'Arial, "Liberation Sans", Helvetica, sans-serif';
const colPx = [[50,143],[165,267],[289,391],[413,516],[537,639],[662,764]];
const rowPx = [[58,153],[171,266],[300,395],[418,513]];
const secOffset = [0, 527];
const BLUE = {pt:'#6c6cff', box:'#5757f0', wh:'#a6a6ff'};
const RED = {pt:'#f26a6a', box:'#ec5656', wh:'#f5a6a6'};
const geom = {10:{box:0.3,pw:0.5,pp:1.68}, 8:{box:0.25,pw:0.42,pp:1.7}, 4:{box:0.12,pw:0.27,pp:1.9}};
const AXC = '#808080';

const sections = [
 {data:A_data, ranges:A_ranges, ticks:A_ticks},
 {data:B_data, ranges:B_ranges, ticks:B_ticks}
];

const traces = [];
const layout = {
  width:W, height:H, margin:{l:0,r:0,t:0,b:0},
  paper_bgcolor:'#fff', plot_bgcolor:'rgba(0,0,0,0)',
  showlegend:false, boxmode:'overlay',
  font:{family:FONT, size:9, color:'#262626'},
  annotations:[]
};
const px2x = p => p / W, px2y = p => 1 - p / H;

let k = 0;
sections.forEach((sec, s) => {
  for (let r = 0; r < 4; r++) {
    for (let c = 0; c < 6; c++) {
      k++;
      const sfx = k === 1 ? '' : String(k);
      const xa = 'x' + sfx, ya = 'y' + sfx;
      const groups = sec.data[r][c];
      const N = groups.length;
      const g = geom[N];
      const stim = r < 2;
      const colorOf = i => stim ? (i % 2 === 0 ? BLUE : RED) : (i < N / 2 ? BLUE : RED);
      [BLUE, RED].forEach(col => {
        const xs = [], ys = [];
        groups.forEach((vals, i) => {
          if (colorOf(i) !== col) return;
          vals.forEach(v => { xs.push(i + 1); ys.push(v); });
        });
        const base = {type:'box', orientation:'v', x:xs, y:ys, xaxis:xa, yaxis:ya,
          quartilemethod:'exclusive', hoverinfo:'skip', whiskerwidth:0, showlegend:false};
        traces.push(Object.assign({}, base, {width:0.004, boxpoints:false,
          fillcolor:col.wh, line:{color:col.wh, width:1}}));
        traces.push(Object.assign({}, base, {width:g.box, boxpoints:false,
          fillcolor:col.box, line:{color:col.box, width:0}}));
        traces.push(Object.assign({}, base, {width:g.pw, boxpoints:'all', jitter:1, pointpos:g.pp,
          fillcolor:'rgba(0,0,0,0)', line:{color:col.pt, width:0},
          marker:{color:col.pt, size:2.8, opacity:0.85}}));
      });
      const mx = [], my = [];
      groups.forEach((vals, i) => {
        const srt = vals.slice().sort((a, b) => a - b);
        mx.push(i + 1); my.push(srt[Math.floor(srt.length / 2)]);
      });
      traces.push({type:'scatter', mode:'markers', x:mx, y:my, xaxis:xa, yaxis:ya,
        marker:{color:'#000', size:3, symbol:'square'}, hoverinfo:'skip', showlegend:false});

      const [x0, x1] = colPx[c];
      const top = rowPx[r][0] + secOffset[s], bot = rowPx[r][1] + secOffset[s];
      const tv = sec.ticks[r][c];
      layout['xaxis' + sfx] = {domain:[px2x(x0), px2x(x1)], range:[0.5, N + 0.5], anchor:ya,
        showline:true, linecolor:AXC, linewidth:1, showticklabels:false, ticks:'',
        showgrid:false, zeroline:false, fixedrange:true};
      layout['yaxis' + sfx] = {domain:[px2y(bot), px2y(top)], range:sec.ranges[r][c], anchor:xa,
        showline:true, linecolor:AXC, linewidth:1, ticks:'inside', ticklen:3, tickcolor:AXC,
        tickmode:'array', tickvals:tv, ticktext:tv.map(String),
        tickfont:{family:FONT, size:9, color:'#262626'},
        showgrid:false, zeroline:false, fixedrange:true};
    }
  }
});

// ===================== TEXT =====================
const ann = layout.annotations;
const addText = (text, xp, yp, opts) => ann.push(Object.assign({
  text, x:px2x(xp), y:px2y(yp), xref:'paper', yref:'paper', showarrow:false,
  xanchor:'center', yanchor:'middle', font:{family:FONT, size:10, color:'#222'}}, opts || {}));

const headerX = [104,221,344,467,588,707];
const rowLabelY = [[100,200,348,447],[633,727,875,974]];
const axisLabelY = [158,273,402,520];
[0, 1].forEach(s => {
  const off = secOffset[s];
  addText(sectionLetters[s], 2, (s === 0 ? 15 : 545), {xanchor:'left',
    font:{family:FONT, size:22, color:'#000'}});
  addText(sectionTitles[s], 395, (s === 0 ? 12 : 547), {
    font:{family:FONT, size:20, color:'#5c5c5c', style:'italic'}});
  columnNames.forEach((nm, c) => addText(nm, headerX[c], 39 + off, {
    font:{family:FONT, size:11, color:'#000', weight:700, style:'italic'}}));
  rowLabels.forEach((nm, r) => addText(nm, 23, rowLabelY[s][r], {textangle:-90,
    font:{family:FONT, size:11.5, color:'#000', weight:700, style:'italic'}}));
  rowAxisLabels.forEach((nm, r) => addText(nm, 98, axisLabelY[r] + off, {
    font:{family:FONT, size:10, color:'#222'}}));
  addText(legendLabels[0], 53, 143 + off, {xanchor:'left', font:{family:FONT, size:10, color:BLUE.pt}});
  addText(legendLabels[1], 99, 143 + off, {xanchor:'left', font:{family:FONT, size:10, color:RED.pt}});
});

Plotly.newPlot('chart', traces, layout, {staticPlot:true, displayModeBar:false});
</script>
</body></html>
